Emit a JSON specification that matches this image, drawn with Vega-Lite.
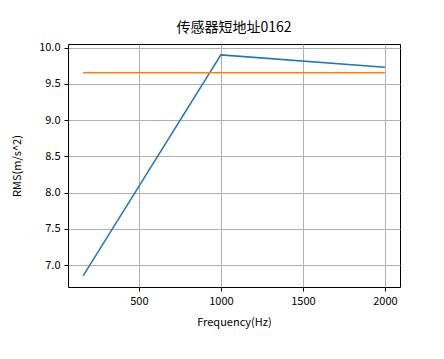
{
  "$schema": "https://vega.github.io/schema/vega-lite/v6.json",
  "width": 332,
  "height": 243,
  "autosize": {"type": "none"},
  "padding": {"left": 68, "top": 44, "right": 44, "bottom": 72},
  "background": "white",
  "title": {"text": "传感器短地址0162", "font": "Noto Sans CJK SC", "fontSize": 14, "fontWeight": "normal", "color": "black", "offset": 7},
  "config": {
    "view": {"stroke": "black", "strokeWidth": 1},
    "axis": {
      "grid": true, "gridColor": "#b0b0b0", "gridWidth": 1,
      "domain": false, "tickColor": "black", "tickSize": 4,
      "labelFont": "Noto Sans CJK SC", "labelFontSize": 11, "labelColor": "black",
      "titleFont": "Noto Sans CJK SC", "titleFontSize": 11, "titleFontWeight": "normal", "titleColor": "black"
    }
  },
  "data": {"values": [
    {"f": 160, "v": 6.853, "s": "rms"},
    {"f": 1000, "v": 9.9, "s": "rms"},
    {"f": 2000, "v": 9.731, "s": "rms"},
    {"f": 160, "v": 9.653, "s": "ref"},
    {"f": 2000, "v": 9.653, "s": "ref"}
  ]},
  "mark": {"type": "line", "strokeWidth": 1.5},
  "encoding": {
    "x": {"field": "f", "type": "quantitative", "scale": {"domain": [68, 2092], "nice": false, "zero": false},
      "axis": {"values": [500, 1000, 1500, 2000], "format": "d", "title": "Frequency(Hz)", "labelPadding": 4, "titlePadding": 10}},
    "y": {"field": "v", "type": "quantitative", "scale": {"domain": [6.7, 10.05], "nice": false, "zero": false},
      "axis": {"values": [7.0, 7.5, 8.0, 8.5, 9.0, 9.5, 10.0], "format": ".1f", "title": "RMS(m/s^2)", "labelPadding": 4, "titlePadding": 16}},
    "color": {"field": "s", "type": "nominal", "scale": {"domain": ["rms", "ref"], "range": ["#1f77b4", "#ff7f0e"]}, "legend": null}
  }
}
